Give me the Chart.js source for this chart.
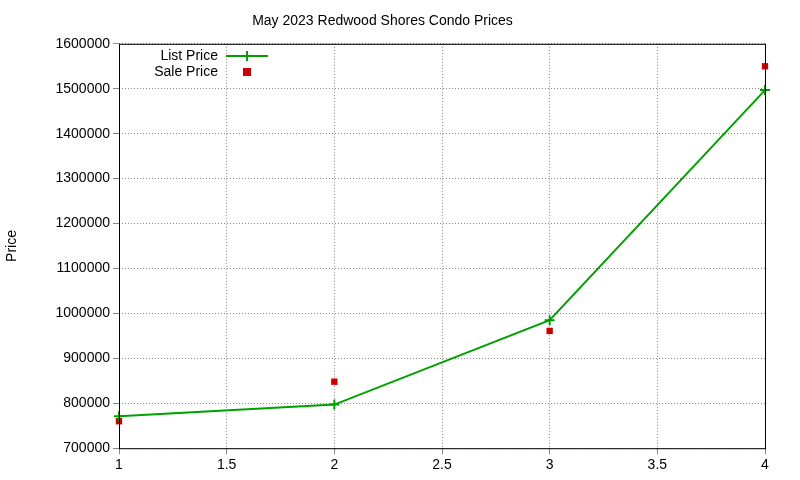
<!DOCTYPE html><html><head><script src="https://cdn.jsdelivr.net/npm/chart.js"></script>
<style>body{margin:0;background:#fff}#w{width:800px;height:480px}</style></head><body><div id="w"><canvas id="c"></canvas></div>
<script>
const xs=[1,2,3,4];
const listPrice=[771000,797000,985000,1497000];
const salePrice=[760000,848000,961000,1550000];
const yTicks=[700000,800000,900000,1000000,1100000,1200000,1300000,1400000,1500000,1600000];
const F='"Liberation Sans", Arial, sans-serif';
const legendPlugin={id:'lg',afterDraw(ch){const c=ch.ctx;c.save();c.font='14px '+F;c.fillStyle='#000';c.textAlign='right';c.textBaseline='middle';
c.fillText('List Price',218,56);c.fillText('Sale Price',218,72);
c.strokeStyle='#00a000';c.lineWidth=2;c.beginPath();c.moveTo(226,56);c.lineTo(268,56);c.moveTo(247,51);c.lineTo(247,61);c.stroke();
c.fillStyle='#cc0000';c.fillRect(243,68,8,8);
c.strokeStyle='#000';c.lineWidth=1;const a=ch.chartArea;c.strokeRect(a.left+0.5,a.top+0.5,a.right-a.left,a.bottom-a.top);c.restore();}};
new Chart(document.getElementById('c'),{type:'scatter',data:{datasets:[
{label:'List Price',data:xs.map((x,i)=>({x,y:listPrice[i]})),showLine:true,clip:false,borderColor:'#00a000',backgroundColor:'#00a000',borderWidth:2,pointStyle:'cross',pointRadius:5,pointBorderWidth:2},
{label:'Sale Price',data:xs.map((x,i)=>({x,y:salePrice[i]})),clip:false,borderColor:'#cc0000',backgroundColor:'#cc0000',pointStyle:'rect',pointRadius:4.5,pointBorderWidth:0}]},
plugins:[legendPlugin],
options:{animation:false,responsive:true,maintainAspectRatio:false,layout:{padding:{top:3,right:35,bottom:3,left:0}},
plugins:{legend:{display:false},tooltip:{enabled:false},title:{display:true,text:'May 2023 Redwood Shores Condo Prices',color:'#000',font:{family:F,size:14,weight:'normal'},padding:{top:10,bottom:14}}},
scales:{x:{type:'linear',min:1,max:4,ticks:{stepSize:0.5,color:'#000',font:{family:F,size:14},callback:v=>String(v)},grid:{color:'#888',tickLength:6},border:{display:false,dash:[1,2]}},
y:{min:700000,max:1600000,afterBuildTicks(s){s.ticks=yTicks.map(v=>({value:v}))},afterFit(s){s.width=119},ticks:{color:'#000',font:{family:F,size:14},callback:v=>String(v)},grid:{color:'#888',tickLength:6},border:{display:false,dash:[1,2]},
title:{display:true,text:'Price',color:'#000',font:{family:F,size:14}}}}}});
</script></body></html>
